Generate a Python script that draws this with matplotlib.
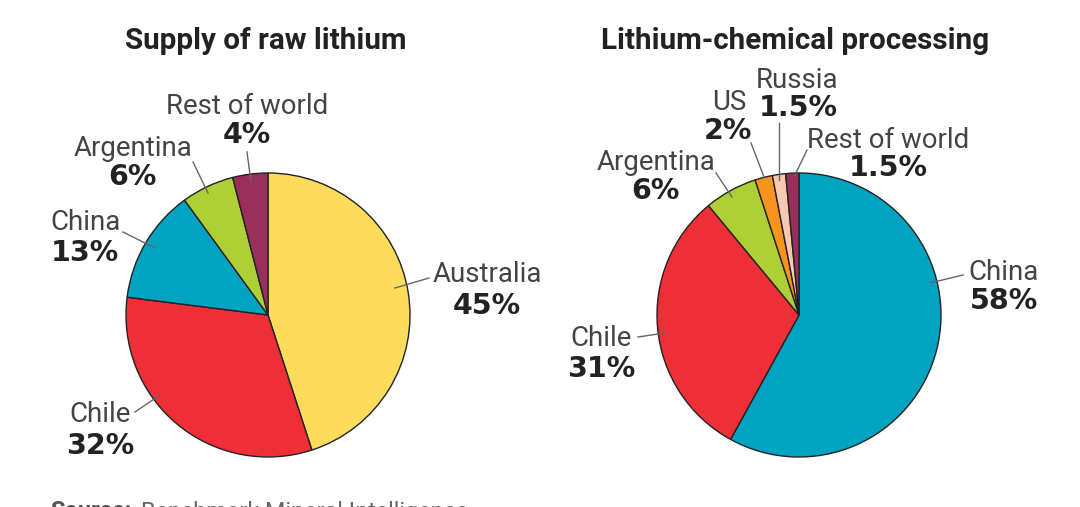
import numpy as np
import matplotlib
matplotlib.use("Agg")
import matplotlib.pyplot as plt

W, H = 1080, 507

plt.rcParams['font.family'] = ['Roboto', 'DejaVu Sans']

raw_labels = ["Australia", "Chile", "China", "Argentina", "Rest of world"]
raw_values = [45, 32, 13, 6, 4]
raw_pct = ["45%", "32%", "13%", "6%", "4%"]
raw_colors = ["#fddc5c", "#ee2f38", "#00a3c0", "#afcf37", "#9a2f5b"]

proc_labels = ["China", "Chile", "Argentina", "US", "Russia", "Rest of world"]
proc_values = [58, 31, 6, 2, 1.5, 1.5]
proc_pct = ["58%", "31%", "6%", "2%", "1.5%", "1.5%"]
proc_colors = ["#00a3c0", "#ee2f38", "#afcf37", "#f7941d", "#f8c9b0", "#9a2f5b"]

# label anchor and leader line, pixels in the picture
raw_text = [(487, 275), (100, 415), (85, 223), (133, 149), (247, 107)]
raw_pct_pos = [(487, 306), (100, 446), (85, 253), (132, 177), (247, 135)]
raw_lines = [((429, 278), (395, 288)), ((135, 412), (160, 395)), ((123, 232), (155, 248)),
             ((193, 162), (208, 193)), ((247, 152), (251, 182))]
proc_text = [(1004, 272), (601, 339), (656, 163), (729, 103), (797, 81), (888, 141)]
proc_pct_pos = [(1004, 301), (601, 369), (655, 191), (728, 131), (798, 108), (888, 168)]
proc_lines = [((963, 275), (930, 283)), ((638, 337), (665, 333)), ((716, 173), (732, 197)),
              ((751, 143), (764, 177)), ((779, 123), (779, 180)), ((807, 150), (795, 175))]


def pie(ax_box, values, colors):
    x0, y0, d = ax_box
    ax = fig.add_axes([x0 / W, 1 - (y0 + d) / H, d / W, d / H])
    ax.pie(values, colors=colors, startangle=90, counterclock=False, radius=1,
           wedgeprops=dict(edgecolor="#222222", linewidth=1.0))
    ax.set_xlim(-1, 1)
    ax.set_ylim(-1, 1)
    ax.set_aspect("equal")
    for patch in ax.patches:
        patch.set_clip_on(False)
    return ax


fig = plt.figure(figsize=(W / 100, H / 100), dpi=100)
pie((126, 173, 284), raw_values, raw_colors)
pie((657, 173, 284), proc_values, proc_colors)

overlay = fig.add_axes([0, 0, 1, 1], zorder=5)
overlay.set_xlim(0, W)
overlay.set_ylim(H, 0)
overlay.axis("off")

overlay.text(266, 41, "Supply of raw lithium", ha="center", va="center",
             fontsize=21.3, fontweight="bold", color="#222222")
overlay.text(795, 41, "Lithium-chemical processing", ha="center", va="center",
             fontsize=21.3, fontweight="bold", color="#222222")

for labels, pct, pos, pct_pos, lines in ((raw_labels, raw_pct, raw_text, raw_pct_pos, raw_lines),
                                         (proc_labels, proc_pct, proc_text, proc_pct_pos, proc_lines)):
    for name, p, (x, y), (px, py), seg in zip(labels, pct, pos, pct_pos, lines):
        overlay.text(x, y, name, ha="center", va="center", fontsize=19.9, color="#444444")
        overlay.text(px, py, p, ha="center", va="center", fontsize=20.5,
                     fontweight="bold", family=["DejaVu Sans"], color="#222222")
        overlay.plot([seg[0][0], seg[1][0]], [seg[0][1], seg[1][1]], color="#666666", lw=1.0)

overlay.text(50, 511, "Source:", ha="left", va="center", fontsize=17,
             fontweight="bold", color="#555555")
overlay.text(141, 512, "Benchmark Mineral Intelligence", ha="left", va="center",
             fontsize=16.8, color="#666666")

fig.savefig("out.png", dpi=100)
